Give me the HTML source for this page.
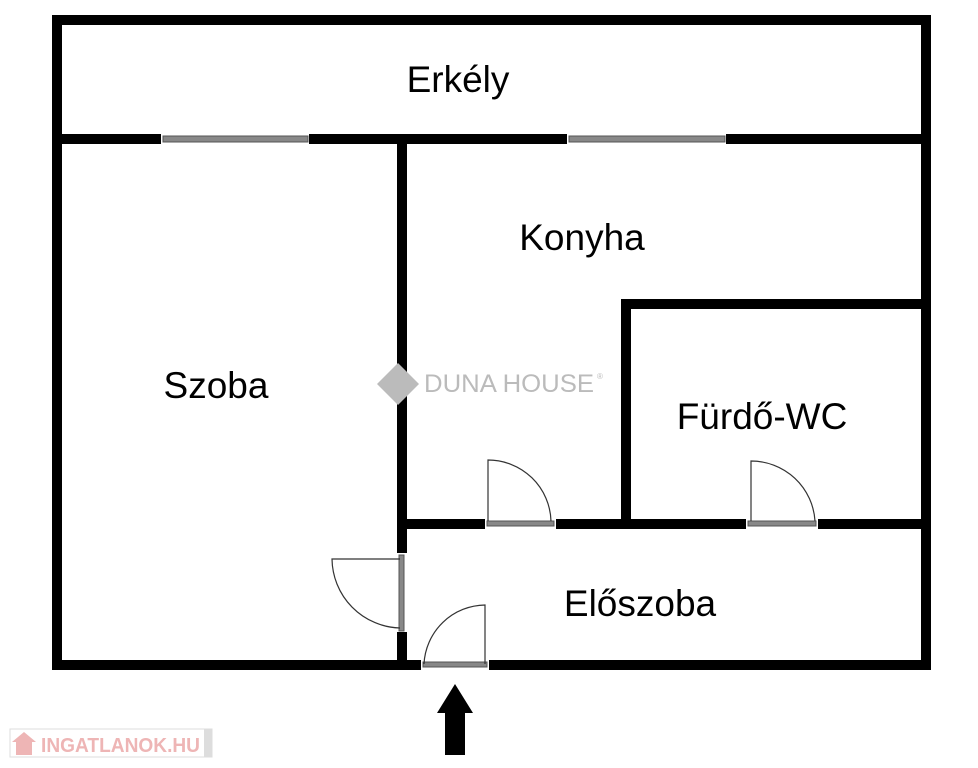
<!DOCTYPE html>
<html><head><meta charset="utf-8"><style>
html,body{margin:0;padding:0;background:#fff;width:978px;height:768px;overflow:hidden}
text{font-family:"Liberation Sans",sans-serif}
</style></head><body>
<svg width="978" height="768" viewBox="0 0 978 768" xmlns="http://www.w3.org/2000/svg">
<g fill="#000">
<rect x="52" y="15" width="879" height="10"/>
<rect x="52" y="15" width="10" height="655"/>
<rect x="921" y="15" width="10" height="655"/>
<rect x="52" y="134" width="109" height="10"/>
<rect x="309" y="134" width="258" height="10"/>
<rect x="726" y="134" width="205" height="10"/>
<rect x="52" y="660" width="369" height="10"/>
<rect x="489" y="660" width="442" height="10"/>
<rect x="397" y="134" width="10" height="419"/>
<rect x="397" y="632" width="10" height="38"/>
<rect x="397" y="519" width="88" height="10"/>
<rect x="556" y="519" width="190" height="10"/>
<rect x="818" y="519" width="113" height="10"/>
<rect x="621" y="299" width="10" height="222"/>
<rect x="621" y="299" width="310" height="10"/>
</g>
<g fill="#888" stroke="#555" stroke-width="1">
<rect x="163" y="136" width="145" height="6"/>
<rect x="569" y="136" width="156" height="6"/>
<rect x="487" y="521" width="67" height="5"/>
<rect x="748" y="521" width="68" height="5"/>
<rect x="399" y="555" width="5" height="76"/>
<rect x="423" y="662" width="64" height="5"/>
</g>
<g fill="none" stroke="#333" stroke-width="1.2">
<path d="M488 521 V460 A63 63 0 0 1 551 521"/>
<path d="M751 521 V461 A64 64 0 0 1 815 521"/>
<path d="M400 559 H332 A70 70 0 0 0 400 628"/>
<path d="M485 664 V605 A62 62 0 0 0 424 664"/>
</g>
<polygon points="445,755 465,755 465,713 473,713 455,684 437,713 445,713" fill="#000"/>
<g font-size="37" fill="#000" text-anchor="middle">
<text x="458" y="92">Erkély</text>
<text x="582" y="250">Konyha</text>
<text x="216" y="398">Szoba</text>
<text x="762" y="429">Fürdő-WC</text>
<text x="640" y="616">Előszoba</text>
</g>
<polygon points="398,363 419,384 398,405 377,384" fill="#bbb"/>
<text x="424" y="392" font-family="Liberation Serif,serif" font-size="25" fill="#bbb" textLength="170" lengthAdjust="spacingAndGlyphs">DUNA HOUSE</text>
<text x="597" y="379" font-size="8" fill="#bbb">®</text>
<rect x="10" y="729" width="202" height="28" fill="#fff" stroke="#ddd"/>
<rect x="204" y="729" width="8" height="28" fill="#ddd"/>
<polygon points="12,742 24,732 36,742 32,742 32,755 16,755 16,742" fill="#eeb5b5"/>
<text x="41" y="752" font-size="20" font-weight="bold" fill="#eeb5b5" textLength="159" lengthAdjust="spacingAndGlyphs">INGATLANOK.HU</text>
</svg>
</body></html>
